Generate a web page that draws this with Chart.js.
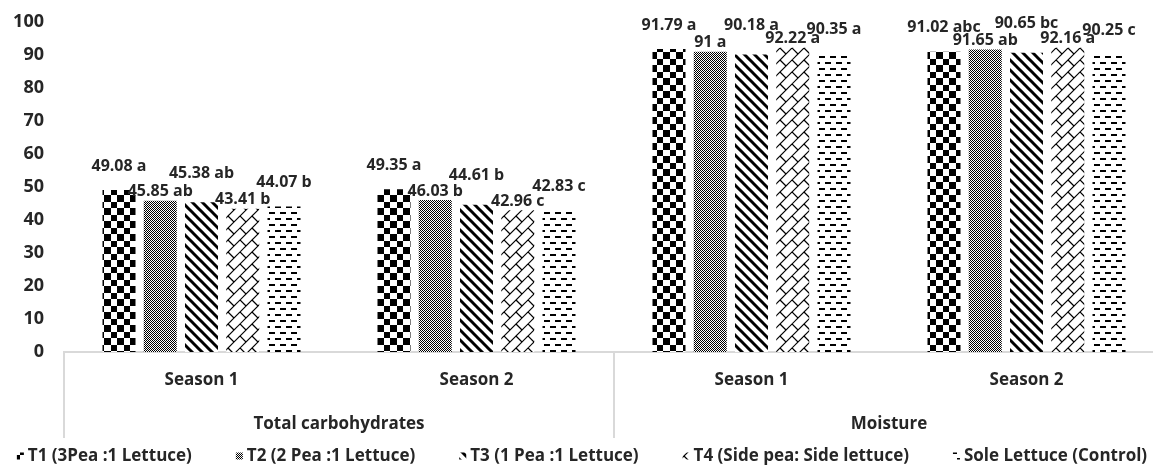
<!DOCTYPE html>
<html>
<head>
<meta charset="utf-8">
<script src="https://cdn.jsdelivr.net/npm/chart.js@4/dist/chart.umd.min.js"></script>
<style>
  html, body { margin: 0; padding: 0; background: #fff; overflow: hidden; }
  #wrap { width: 1164px; height: 468px; position: relative; }
</style>
</head>
<body>
<div id="wrap"><canvas id="chart"></canvas></div>
<script>
// ===== 데이터 =====
const seasons = ["Season 1", "Season 2", "Season 1", "Season 2"];
const groups = ["Total carbohydrates", "Moisture"];
const treatments = [
  "T1 (3Pea :1 Lettuce)",
  "T2 (2 Pea :1 Lettuce)",
  "T3 (1 Pea :1 Lettuce)",
  "T4 (Side pea: Side lettuce)",
  "Sole Lettuce (Control)"
];
const t1 = [49.08, 49.35, 91.79, 91.02];
const t2 = [45.85, 46.03, 91, 91.65];
const t3 = [45.38, 44.61, 90.18, 90.65];
const t4 = [43.41, 42.96, 92.22, 92.16];
const t5 = [44.07, 42.83, 90.35, 90.25];
const t1Letters = ["a", "a", "a", "abc"];
const t2Letters = ["ab", "b", "a", "ab"];
const t3Letters = ["ab", "b", "a", "bc"];
const t4Letters = ["b", "c", "a", "a"];
const t5Letters = ["b", "c", "a", "c"];
const yTicks = [0, 10, 20, 30, 40, 50, 60, 70, 80, 90, 100];

const values = [t1, t2, t3, t4, t5];
const letters = [t1Letters, t2Letters, t3Letters, t4Letters, t5Letters];

// ===== 스타일 =====
const FONT = "'Open Sans', sans-serif";
const TEXT = "#262626";
const LINE = "#d9d9d9";
const labelLift = [24, 9, 29, 9, 24]; // 라벨 겹침 방지용 높이 차이 (엑셀처럼 엇갈리게)

// ===== 패턴 만들기 =====
function tile(w, h, draw) {
  const c = document.createElement("canvas");
  c.width = w; c.height = h;
  const g = c.getContext("2d");
  g.fillStyle = "#fff";
  g.fillRect(0, 0, w, h);
  g.fillStyle = "#000";
  g.strokeStyle = "#000";
  draw(g);
  return document.createElement("canvas").getContext("2d").createPattern(c, "repeat");
}

const patterns = [
  // 체크무늬
  tile(13, 13, (g) => { g.fillRect(0, 0, 7, 7); g.fillRect(7, 7, 6, 6); }),
  // 촘촘한 점
  tile(4, 4, (g) => {
    for (let y = 0; y < 4; y++) for (let x = 0; x < 4; x++) if ((x + y) % 2 === 0) g.fillRect(x, y, 1, 1);
  }),
  // 굵은 사선
  tile(10, 10, (g) => {
    g.lineWidth = 3;
    for (const o of [-10, 0, 10]) { g.beginPath(); g.moveTo(o - 2, -2); g.lineTo(o + 12, 12); g.stroke(); }
  }),
  // 대각선 벽돌
  tile(24, 24, (g) => {
    g.lineWidth = 1.2;
    for (let c = -12; c <= 60; c += 12) { g.beginPath(); g.moveTo(c + 10, -10); g.lineTo(-10, c + 10); g.stroke(); }
    const segs = [[0, 0], [12, 0], [12, 12], [0, 12], [24, 0], [0, 24], [24, 12], [12, 24], [24, 24]];
    for (const [x, y] of segs) { g.beginPath(); g.moveTo(x, y); g.lineTo(x + 6, y + 6); g.stroke(); }
  }),
  // 가로 점선
  tile(11, 12, (g) => { g.fillRect(0, 2, 6, 2); g.fillRect(5, 8, 6, 2); })
];

// ===== 플러그인: 값 라벨, 그룹 축, 범례 =====
const extras = {
  id: "extras",
  afterDatasetsDraw(chart) {
    const ctx = chart.ctx;
    ctx.save();
    ctx.font = "bold 16px " + FONT;
    ctx.fillStyle = TEXT;
    ctx.textAlign = "center";
    ctx.textBaseline = "middle";
    values.forEach((series, i) => {
      chart.getDatasetMeta(i).data.forEach((bar, j) => {
        ctx.fillText(series[j] + " " + letters[i][j], bar.x, bar.y - labelLift[i]);
      });
    });
    ctx.restore();
  },
  afterDraw(chart) {
    const ctx = chart.ctx;
    const xs = chart.scales.x;
    const top = xs.top;
    ctx.save();
    ctx.strokeStyle = LINE;
    ctx.lineWidth = 2;
    [-0.5, 1.5, 3.5].forEach((v) => {
      const px = Math.round(xs.getPixelForValue(v));
      ctx.beginPath(); ctx.moveTo(px, top); ctx.lineTo(px, top + 86); ctx.stroke();
    });
    ctx.font = "bold 17px " + FONT;
    ctx.fillStyle = TEXT;
    ctx.textAlign = "center";
    ctx.textBaseline = "middle";
    groups.forEach((name, k) => {
      const cx = (xs.getPixelForValue(k * 2) + xs.getPixelForValue(k * 2 + 1)) / 2;
      ctx.fillText(name, cx, top + 72);
    });

    // 범례
    const box = 7, boxGap = 4, gap = 44;
    const widths = treatments.map((t) => ctx.measureText(t).width);
    const total = widths.reduce((a, w) => a + box + boxGap + w, 0) + gap * (treatments.length - 1);
    let x = (chart.width - total) / 2;
    const y = 456;
    ctx.textAlign = "left";
    treatments.forEach((t, i) => {
      ctx.fillStyle = patterns[i];
      ctx.fillRect(x, y - box / 2, box, box);
      ctx.fillStyle = TEXT;
      ctx.fillText(t, x + box + boxGap, y);
      x += box + boxGap + widths[i] + gap;
    });
    ctx.restore();
  }
};

new Chart(document.getElementById("chart"), {
  type: "bar",
  data: {
    labels: seasons,
    datasets: values.map((series, i) => ({
      label: treatments[i],
      data: series,
      backgroundColor: patterns[i],
      borderWidth: 0,
      categoryPercentage: 0.75,
      barPercentage: 0.8
    }))
  },
  options: {
    responsive: true,
    maintainAspectRatio: false,
    animation: false,
    layout: { padding: { top: 22, left: 0, right: 0, bottom: 28 } },
    plugins: { legend: { display: false }, tooltip: { enabled: false } },
    scales: {
      x: {
        grid: { display: false, drawTicks: false },
        border: { display: true, color: LINE, width: 2 },
        ticks: { font: { family: FONT, size: 17, weight: "bold" }, color: TEXT, padding: 18, autoSkip: false, maxRotation: 0 },
        afterFit: (s) => { s.height = 88; s.paddingLeft = 0; s.paddingRight = 0; }
      },
      y: {
        min: 0, max: 100,
        afterBuildTicks: (s) => { s.ticks = yTicks.map((v) => ({ value: v })); },
        grid: { display: false, drawTicks: false },
        border: { display: false },
        ticks: { font: { family: FONT, size: 18, weight: "bold" }, color: TEXT, padding: 20 },
        afterFit: (s) => { s.width = 64; s.paddingTop = 0; s.paddingBottom = 0; }
      }
    }
  },
  plugins: [extras]
});
</script>
</body>
</html>
